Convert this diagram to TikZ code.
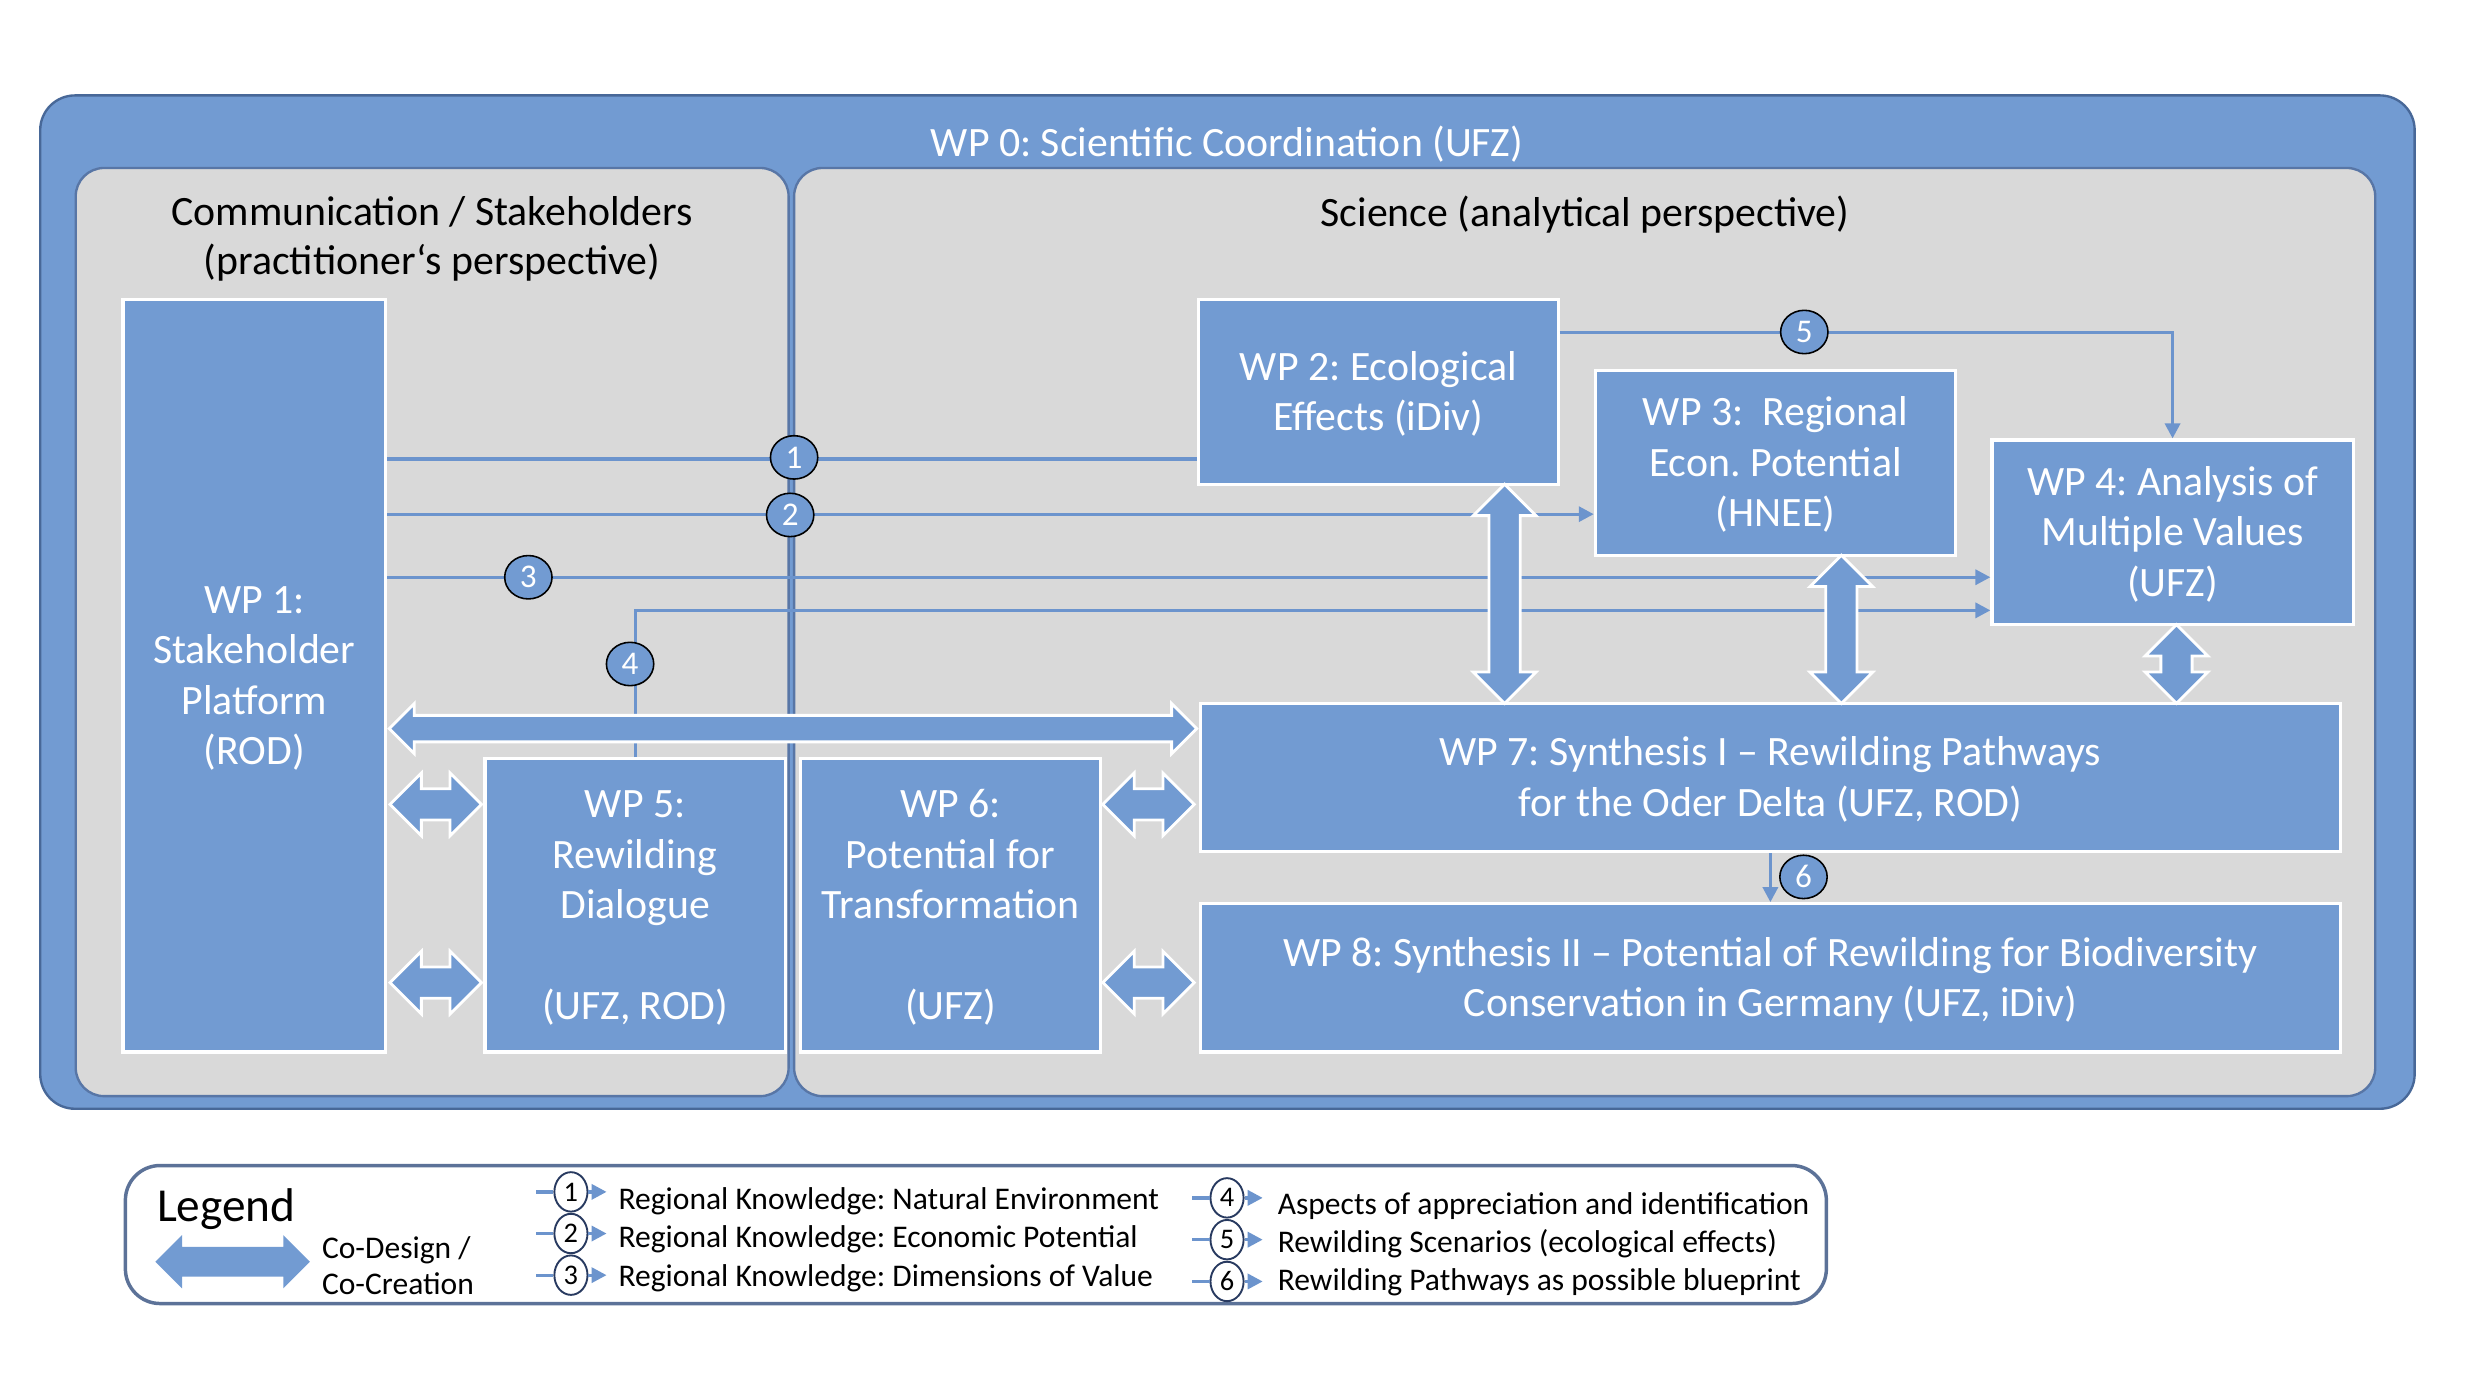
\documentclass[tikz,border=0pt]{standalone}
\usepackage{xcolor}
\usepackage{tikz}
\usepackage{fontspec}
\setmainfont{Carlito}
\usetikzlibrary{arrows.meta,shapes.arrows,shapes.geometric}

\definecolor{wpblue}{RGB}{114,155,210}
\definecolor{panelgray}{RGB}{217,217,217}
\definecolor{frameblue}{RGB}{72,104,152}
\definecolor{edgeblue}{RGB}{88,118,166}
\definecolor{linkblue}{RGB}{108,148,205}
\definecolor{legendedge}{RGB}{92,114,152}
\definecolor{navy}{RGB}{40,58,96}

\newcommand{\wptop}{\rule{0pt}{24pt}}
\newcommand{\wpbot}{\rule[-7pt]{0pt}{7pt}}

\begin{document}
\frenchspacing
\begin{tikzpicture}[x=1pt, y=-1pt,
    wp/.style={draw=white, line width=2pt, fill=wpblue, text=white, align=center, inner sep=0pt, font=\fontsize{26.5}{32}\selectfont},
    wplink/.style={draw=linkblue, line width=2.1pt},
    arrowed/.style={-{Triangle[length=9.5pt, width=9.5pt]}},
    num/.style={ellipse, draw=black, line width=1pt, fill=wpblue, text=white, inner sep=0pt, minimum width=30pt, minimum height=27.5pt, font=\fontsize{21}{21}\selectfont},
    codesign/.style={double arrow, double arrow head extend=10pt, inner xsep=0pt, inner ysep=9pt, fill=wpblue, draw=white, line width=1.8pt},
    legnum/.style={ellipse, draw=navy, line width=1.2pt, fill=white, inner sep=0pt, minimum width=21pt, minimum height=25pt, font=\fontsize{18}{18}\selectfont},
    legtext/.style={anchor=base west, inner sep=0pt, font=\fontsize{20}{24}\selectfont}
]

    % Background
    \useasboundingbox (0,0) rectangle (1568,885.8);
    \fill[white] (0,0) rectangle (1568,885.8);

    % WP 0 frame
    \draw[frameblue, line width=1.5pt, fill=wpblue, rounded corners=22pt] (25.5,60.5) rectangle (1531,703);
    \node[text=white, font=\fontsize{26.5}{32}\selectfont] (wp0) at (778,91.5) {WP 0: Scientific Coordination (UFZ)};

    % Panels
    \draw[edgeblue, line width=1.5pt, fill=panelgray, rounded corners=18pt] (48,106.5) rectangle (500,695);
    \draw[edgeblue, line width=1.5pt, fill=panelgray, rounded corners=18pt] (503.5,106.5) rectangle (1506,695);
    \node[align=center, font=\fontsize{26.5}{31}\selectfont] (comm) at (274,151.5) {Communication / Stakeholders\\(practitioner‘s perspective)};
    \node[font=\fontsize{26.5}{31}\selectfont] (sci) at (1005,136) {Science (analytical perspective)};

    % Work packages
    \node[wp, minimum width=166.5pt, minimum height=477pt] (wp1) at (161.25,428.5) {\wptop WP 1:\\Stakeholder\\Platform\\(ROD)\wpbot};
    \node[wp, minimum width=228pt, minimum height=117pt] (wp2) at (874,248.5) {\wptop WP 2: Ecological\\Effects (iDiv)\wpbot};
    \node[wp, minimum width=228.5pt, minimum height=117pt] (wp3) at (1125.75,293.5) {\wptop WP 3: \ Regional\\Econ. Potential\\(HNEE)\wpbot};
    \node[wp, minimum width=229pt, minimum height=117pt] (wp4) at (1377.5,337.5) {\wptop WP 4: Analysis of\\Multiple Values\\(UFZ)\wpbot};
    \node[wp, minimum width=190.5pt, minimum height=186pt] (wp5) at (402.75,574) {\wptop WP 5:\\Rewilding\\Dialogue\\[32pt](UFZ, ROD)\wpbot};
    \node[wp, minimum width=190.5pt, minimum height=186pt] (wp6) at (602.75,574) {\wptop WP 6:\\Potential for\\Transformation\\[32pt](UFZ)\wpbot};
    \node[wp, minimum width=723pt, minimum height=94pt] (wp7) at (1122.5,493) {\wptop WP 7: Synthesis I – Rewilding Pathways\\for the Oder Delta (UFZ, ROD)\wpbot};
    \node[wp, minimum width=723pt, minimum height=94pt] (wp8) at (1122.5,620) {\wptop WP 8: Synthesis II – Potential of Rewilding for Biodiversity\\Conservation in Germany (UFZ, iDiv)\wpbot};

    % Knowledge flows
    \draw[wplink] (wp1.east |- 0,291) -- (wp2.west |- 0,291);
    \draw[wplink, arrowed] (wp1.east |- 0,326) -- (wp3.west |- 0,326);
    \draw[wplink, arrowed] (wp1.east |- 0,366) -- (wp4.west |- 0,366);
    \draw[wplink, arrowed] (wp5.north) -- (wp5.north |- 0,387) -- (wp4.west |- 0,387);
    \draw[wplink, arrowed] (wp2.east |- 0,211) -- (wp4.north |- 0,211) -- (wp4.north);
    \draw[wplink, arrowed] (wp7.south) -- (wp8.north);

    \node[num] (n1) at (503.5,290) {1};
    \node[num] (n2) at (501,326.5) {2};
    \node[num] (n3) at (335,366) {3};
    \node[num] (n4) at (399.5,421) {4};
    \node[num] (n5) at (1144,210.5) {5};
    \node[num] (n6) at (1143.5,556) {6};

    % Co-design arrows
    \node[codesign, inner ysep=7.5pt, double arrow head extend=7.5pt, minimum height=512pt] (cd17) at (502.75,462) {};
    \node[codesign, rotate=90, minimum height=139pt] (cd27) at (954,376.5) {};
    \node[codesign, rotate=90, minimum height=94pt] (cd37) at (1167.5,399) {};
    \node[codesign, rotate=90, minimum height=50pt] (cd47) at (1380,421) {};
    \node[codesign, minimum height=58pt] (cd15a) at (276.25,510) {};
    \node[codesign, minimum height=58pt] (cd15b) at (276.25,623) {};
    \node[codesign, minimum height=58pt] (cd67) at (728.25,510) {};
    \node[codesign, minimum height=58pt] (cd68) at (728.25,623) {};

    % Legend
    \draw[legendedge, line width=2.2pt, fill=white, rounded corners=22pt] (79.5,739) rectangle (1158,826.5);
    \node[anchor=base west, inner sep=0pt, font=\fontsize{30}{36}\selectfont] (leg) at (99.4,774.7) {Legend};
    \node[codesign, draw=none, inner ysep=8.5pt, double arrow head extend=7.5pt, minimum height=98pt] (legcd) at (147.5,800) {};
    \node[legtext] (legcd1) at (204,797.8) {Co-Design /};
    \node[legtext] (legcd2) at (204,821) {Co-Creation};

    \node[legnum] (l1) at (362,755.7) {1};
    \node[legnum] (l2) at (362,782.1) {2};
    \node[legnum] (l3) at (362,808.5) {3};
    \node[legnum] (l4) at (778,759.5) {4};
    \node[legnum] (l5) at (778,786) {5};
    \node[legnum] (l6) at (778,812.5) {6};
    \draw[wplink] (l1.west) -- ++(-11,0);
    \draw[wplink] (l2.west) -- ++(-11,0);
    \draw[wplink] (l3.west) -- ++(-11,0);
    \draw[wplink] (l4.west) -- ++(-11,0);
    \draw[wplink] (l5.west) -- ++(-11,0);
    \draw[wplink] (l6.west) -- ++(-11,0);
    \draw[wplink, arrowed] (l1.east) -- ++(11.5,0);
    \draw[wplink, arrowed] (l2.east) -- ++(11.5,0);
    \draw[wplink, arrowed] (l3.east) -- ++(11.5,0);
    \draw[wplink, arrowed] (l4.east) -- ++(11.5,0);
    \draw[wplink, arrowed] (l5.east) -- ++(11.5,0);
    \draw[wplink, arrowed] (l6.east) -- ++(11.5,0);

    \node[legtext] (t1) at (392,767) {Regional Knowledge: Natural Environment};
    \node[legtext] (t2) at (392,791) {Regional Knowledge: Economic Potential};
    \node[legtext] (t3) at (392,815.5) {Regional Knowledge: Dimensions of Value};
    \node[legtext] (t4) at (810,770) {Aspects of appreciation and identification};
    \node[legtext] (t5) at (810,794) {Rewilding Scenarios (ecological effects)};
    \node[legtext] (t6) at (810,818) {Rewilding Pathways as possible blueprint};

\end{tikzpicture}
\end{document}
